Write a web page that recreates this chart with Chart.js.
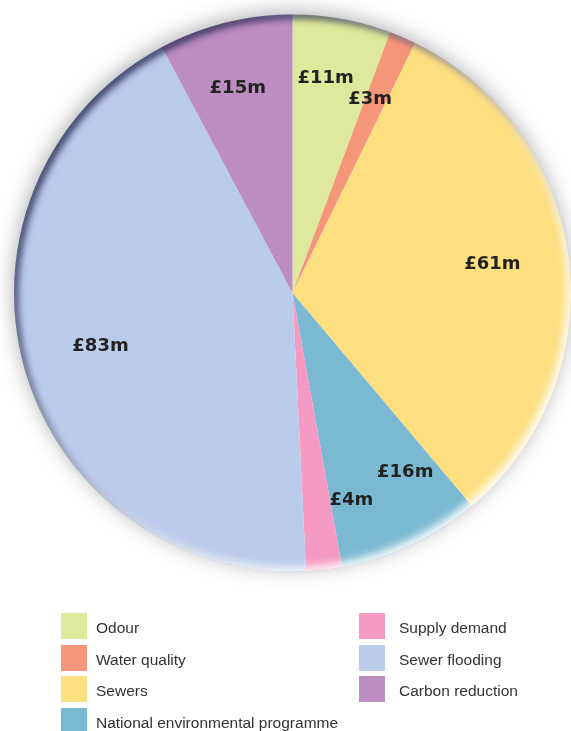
<!DOCTYPE html>
<html>
<head>
<meta charset="utf-8">
<title>Investment by programme</title>
<script src="https://cdn.jsdelivr.net/npm/chart.js@4.4.0/dist/chart.umd.min.js"></script>
<style>
  html, body { margin: 0; padding: 0; background: #fff; }
  #wrap { position: relative; width: 571px; height: 731px; overflow: hidden; }
  #pie { position: absolute; left: 0; top: 0; }
  .key { position: absolute; height: 26px; white-space: nowrap;
         font: 15.5px "Liberation Sans", Arial, sans-serif; color: #333; }
  .key span { position: absolute; left: 0; top: 0; width: 26px; height: 26px; }
  .key b { position: absolute; top: 5px; line-height: 20px; font-weight: normal; }
</style>
</head>
<body>
<div id="wrap">
  <canvas id="pie" width="571" height="731"></canvas>
</div>
<script>
// spend per programme, £m
var categories = ['Odour', 'Water quality', 'Sewers', 'National environmental programme',
                  'Supply demand', 'Sewer flooding', 'Carbon reduction'];
var spendMillions = [11, 3, 61, 16, 4, 83, 15];
var sliceColours = ['#dfe99b', '#f5967a', '#fddf80', '#7bb9d2', '#f59ac3', '#bbcbea', '#bc8dc0'];

// where each value label sits: shift from the slice's mid angle (deg) and fraction of radius
var labelShiftDeg = [-1.5, -1.5, -1.3, -7, -9.3, 0, -1];
var labelRadius = [0.78, 0.75, 0.725, 0.76, 0.775, 0.715, 0.76];

function innerShadow(ctx, x, y, r, colour, blur, dx, dy) {
    // ring drawn far off to the left, only its shadow lands inside the pie
    var far = 3000;
    ctx.save();
    ctx.beginPath();
    ctx.arc(x, y, r, 0, Math.PI * 2);
    ctx.clip();
    ctx.beginPath();
    ctx.arc(x - far, y, r + 120, 0, Math.PI * 2);
    ctx.arc(x - far, y, r, 0, Math.PI * 2, true);
    ctx.shadowColor = colour;
    ctx.shadowBlur = blur;
    ctx.shadowOffsetX = far + dx;
    ctx.shadowOffsetY = dy;
    ctx.fillStyle = '#000';
    ctx.fill('evenodd');
    ctx.restore();
}

var pieShading = {
    id: 'pieShading',
    beforeDatasetsDraw: function(chart) {
        var a = chart.getDatasetMeta(0).data[0];
        var ctx = chart.ctx;
        ctx.save();
        ctx.beginPath();
        ctx.arc(a.x, a.y, a.outerRadius - 1, 0, Math.PI * 2);
        ctx.shadowColor = 'rgba(40,40,50,0.38)';
        ctx.shadowBlur = 20;
        ctx.shadowOffsetX = -1;
        ctx.shadowOffsetY = -3;
        ctx.fillStyle = '#fff';
        ctx.fill();
        ctx.restore();
    },
    afterDatasetsDraw: function(chart) {
        var meta = chart.getDatasetMeta(0);
        var a = meta.data[0];
        var ctx = chart.ctx;

        innerShadow(ctx, a.x, a.y, a.outerRadius, 'rgba(25,30,70,0.8)', 7, 4, 4);
        innerShadow(ctx, a.x, a.y, a.outerRadius, 'rgba(255,255,255,0.95)', 9, -4, -4);

        ctx.save();
        ctx.font = 'bold 18px "DejaVu Sans", sans-serif';
        ctx.fillStyle = '#222';
        ctx.textAlign = 'center';
        ctx.textBaseline = 'middle';
        meta.data.forEach(function(arc, i) {
            var mid = (arc.startAngle + arc.endAngle) / 2 + labelShiftDeg[i] * Math.PI / 180;
            var r = arc.outerRadius * labelRadius[i];
            ctx.fillText('£' + spendMillions[i] + 'm', arc.x + Math.cos(mid) * r, arc.y + Math.sin(mid) * r);
        });
        ctx.restore();
    }
};

var chart = new Chart(document.getElementById('pie'), {
    type: 'pie',
    data: {
        labels: categories,
        datasets: [{
            data: spendMillions,
            backgroundColor: sliceColours,
            borderWidth: 0
        }]
    },
    options: {
        responsive: false,
        animation: false,
        layout: { padding: { left: 14, right: 0, top: 14, bottom: 159 } },
        plugins: {
            legend: { display: false },
            tooltip: { enabled: false }
        }
    },
    plugins: [pieShading]
});

// key below the pie: four rows on the left, the rest on the right
var wrap = document.getElementById('wrap');
categories.forEach(function(name, i) {
    var col = i < 4 ? 0 : 1;
    var row = col ? i - 4 : i;
    var el = document.createElement('div');
    el.className = 'key';
    el.style.left = (col ? 359 : 61) + 'px';
    el.style.top = (613 + row * 31.6) + 'px';
    el.innerHTML = '<span style="background:' + sliceColours[i] + '"></span><b style="left:' +
        (col ? 40 : 35) + 'px">' + name + '</b>';
    wrap.appendChild(el);
});
</script>
</body>
</html>
